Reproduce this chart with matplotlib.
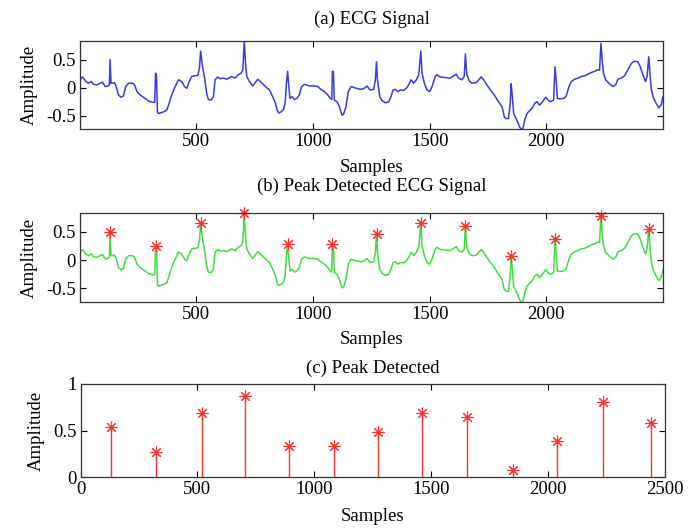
import numpy as np
import matplotlib
matplotlib.use("Agg")
import matplotlib.pyplot as plt

plt.rcParams['font.family'] = ['Liberation Serif', 'DejaVu Serif']
plt.rcParams['font.size'] = 13.5

# ECG trace, vertices (sample index, amplitude)
ecg_samples = [
    1, 12, 26, 37, 49, 59, 73, 87, 97, 109, 120, 127, 130, 134,
    142, 149, 156, 166, 177, 187, 197, 209, 226, 235, 245, 259, 280, 297,
    312, 321, 325, 329, 333, 337, 359, 373, 383, 394, 409, 423, 437, 449,
    459, 469, 480, 494, 506, 513, 518, 526, 534, 544, 551, 563, 573, 580,
    591, 601, 616, 630, 651, 666, 677, 692, 699, 705, 711, 716, 727, 741,
    756, 763, 774, 789, 799, 813, 827, 839, 846, 853, 863, 873, 880, 886,
    891, 895, 901, 910, 920, 931, 941, 951, 963, 984, 1006, 1020, 1034,
    1049, 1063, 1074, 1080, 1083, 1087, 1091, 1103, 1113, 1124, 1131, 1141,
    1151, 1163, 1184, 1206, 1220, 1231, 1244, 1260, 1267, 1272, 1276, 1286,
    1296, 1310, 1324, 1334, 1343, 1353, 1363, 1374, 1388, 1400, 1410, 1420,
    1431, 1443, 1453, 1462, 1467, 1477, 1488, 1500, 1510, 1524, 1531, 1545,
    1567, 1588, 1603, 1614, 1624, 1638, 1648, 1653, 1659, 1671, 1681, 1700,
    1710, 1721, 1731, 1745, 1760, 1777, 1795, 1810, 1820, 1828, 1838, 1845,
    1849, 1853, 1860, 1867, 1877, 1885, 1893, 1900, 1907, 1917, 1928, 1940,
    1950, 1960, 1971, 1983, 1997, 2007, 2018, 2031, 2037, 2042, 2047, 2057,
    2075, 2085, 2097, 2107, 2121, 2135, 2150, 2164, 2178, 2193, 2207, 2221,
    2228, 2234, 2240, 2245, 2254, 2268, 2285, 2297, 2307, 2321, 2335, 2350,
    2364, 2378, 2392, 2402, 2414, 2425, 2432, 2439, 2444, 2450, 2460, 2471,
    2482, 2492, 2500,
]
ecg_amp = [
    0.14, 0.19, 0.11, 0.08, 0.11, 0.06, 0.05, 0.08, 0.10, 0.02, 0.03, 0.05, 0.50, 0.08,
    0.08, 0.09, 0.02, -0.13, -0.17, -0.15, 0.02, 0.08, 0.08, 0.05, -0.07, -0.13, -0.19, -0.24,
    -0.26, -0.26, 0.26, 0.20, -0.43, -0.46, -0.43, -0.40, -0.28, -0.13, 0.02, 0.14, 0.11, 0.02,
    -0.01, 0.11, 0.20, 0.21, 0.22, 0.35, 0.65, 0.38, 0.20, -0.10, -0.21, -0.22, -0.16, 0.14,
    0.19, 0.16, 0.17, 0.15, 0.20, 0.17, 0.22, 0.26, 0.32, 0.83, 0.40, 0.20, 0.11, 0.03,
    0.11, 0.15, 0.11, 0.05, 0.01, -0.04, -0.16, -0.28, -0.40, -0.45, -0.43, -0.39, -0.28, 0.08,
    0.29, 0.08, -0.19, -0.16, -0.21, -0.19, -0.13, 0.02, 0.06, 0.03, 0.03, 0.02, -0.03,
    -0.07, -0.13, -0.19, -0.21, 0.29, 0.29, -0.22, -0.25, -0.34, -0.49, -0.47, -0.34,
    -0.07, 0.02, -0.01, -0.03, -0.01, 0.03, -0.04, -0.03, 0.14, 0.46, 0.14, -0.16,
    -0.23, -0.27, -0.25, -0.16, -0.04, -0.03, -0.07, -0.04, -0.05, -0.01, 0.05, 0.14,
    0.08, 0.14, 0.23, 0.65, 0.26, 0.08, -0.04, -0.07, 0.02, 0.20, 0.23, 0.19,
    0.18, 0.17, 0.21, 0.24, 0.17, 0.14, 0.20, 0.60, 0.23, 0.11, 0.08, 0.09,
    0.14, 0.19, 0.14, 0.05, -0.04, -0.13, -0.25, -0.34, -0.52, -0.55, -0.55, -0.28,
    0.07, -0.10, -0.46, -0.52, -0.61, -0.70, -0.74, -0.72, -0.58, -0.46, -0.41, -0.36,
    -0.28, -0.25, -0.31, -0.25, -0.17, -0.22, -0.25, -0.22, 0.37, 0.14, -0.19, -0.20,
    -0.19, -0.15, 0.02, 0.11, 0.15, 0.17, 0.20, 0.21, 0.24, 0.27, 0.29, 0.32,
    0.31, 0.79, 0.45, 0.26, 0.14, 0.08, 0.02, 0.05, 0.15, 0.17, 0.21, 0.32,
    0.43, 0.47, 0.46, 0.38, 0.23, 0.11, 0.20, 0.55, 0.26, -0.04, -0.19, -0.28,
    -0.36, -0.31, -0.16,
]

# detected R peaks
peak_samples = [130, 325, 518, 705, 891, 1083, 1272, 1462, 1653, 1849, 2037, 2234, 2439]
peak_amp = [0.50, 0.26, 0.65, 0.83, 0.29, 0.29, 0.46, 0.65, 0.60, 0.07, 0.37, 0.79, 0.55]
# values shown in panel (c)
stem_amp = [0.54, 0.27, 0.69, 0.87, 0.33, 0.33, 0.48, 0.69, 0.64, 0.07, 0.39, 0.81, 0.58]

W, H = 699, 529
fig = plt.figure(figsize=(W / 100, H / 100), dpi=100)


def box(l, t, r, b):
    return [l / W, 1 - b / H, (r - l) / W, (b - t) / H]


def style(ax):
    ax.tick_params(direction='in', top=True, right=True, length=4, width=0.8, pad=3)
    for s in ax.spines.values():
        s.set_linewidth(0.9)
        s.set_color('#333333')


star = dict(marker=(8, 2, 0), color='#ff3030', markersize=8.5, mew=0.8, linestyle='none')

ax1 = fig.add_axes(box(80, 41, 663, 129.3))
ax1.plot(ecg_samples, ecg_amp, color='#3a3ae6', lw=1.1)
ax1.set_xlim(1, 2500)
ax1.set_ylim(-0.74, 0.83)
ax1.set_xticks([500, 1000, 1500, 2000])
ax1.set_yticks([-0.5, 0, 0.5])
ax1.set_yticklabels(['-0.5', '0', '0.5'])
ax1.set_xlabel('Samples', labelpad=6)
ax1.set_ylabel('Amplitude', labelpad=6)
ax1.set_title('(a) ECG Signal', fontsize=13.5, pad=12)
style(ax1)

ax2 = fig.add_axes(box(80, 213.3, 663, 302))
ax2.plot(ecg_samples, ecg_amp, color='#40dd40', lw=1.1)
ax2.plot(peak_samples, peak_amp, clip_on=False, **star)
ax2.set_xlim(1, 2500)
ax2.set_ylim(-0.74, 0.83)
ax2.set_xticks([500, 1000, 1500, 2000])
ax2.set_yticks([-0.5, 0, 0.5])
ax2.set_yticklabels(['-0.5', '0', '0.5'])
ax2.set_xlabel('Samples', labelpad=6)
ax2.set_ylabel('Amplitude', labelpad=6)
ax2.set_title('(b) Peak Detected ECG Signal', fontsize=13.5, pad=16)
style(ax2)

ax3 = fig.add_axes(box(80.5, 384, 665, 477))
ax3.vlines(peak_samples, 0, stem_amp, color='#ff3030', lw=1.0)
ax3.plot(peak_samples, stem_amp, **star)
ax3.set_xlim(0, 2500)
ax3.set_ylim(0, 1)
ax3.set_xticks([0, 500, 1000, 1500, 2000, 2500])
ax3.set_yticks([0, 0.5, 1])
ax3.set_yticklabels(['0', '0.5', '1'])
ax3.set_xlabel('Samples', labelpad=7)
ax3.set_ylabel('Amplitude', labelpad=6)
ax3.set_title('(c) Peak Detected', fontsize=13.5, pad=8)
style(ax3)

fig.savefig('out.png', dpi=100)
